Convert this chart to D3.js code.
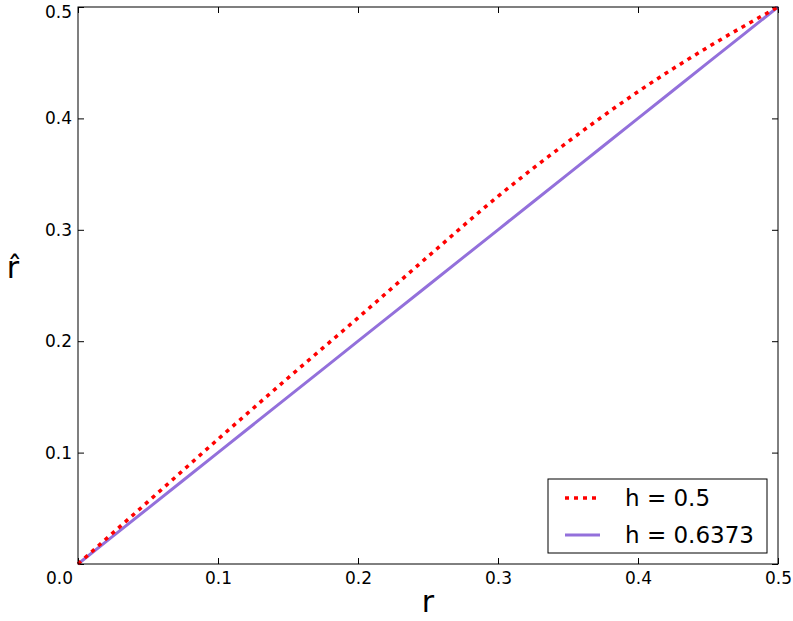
<!DOCTYPE html>
<html>
<head>
<meta charset="utf-8">
<script src="https://cdn.jsdelivr.net/npm/d3@7"></script>
<style>
  body { margin: 0; background: #fff; }
  text { font-family: "DejaVu Sans", sans-serif; }
</style>
</head>
<body>
<div id="chart"></div>
<script>
// values
const rValues = [0, 0.05, 0.1, 0.15, 0.2, 0.25, 0.3, 0.35, 0.4, 0.45, 0.5];
const rHatH05 = [0, 0.056, 0.112, 0.167, 0.221, 0.276, 0.330, 0.379, 0.424, 0.464, 0.5];
const rHatH06373 = [0, 0.05, 0.1, 0.15, 0.2, 0.25, 0.3, 0.35, 0.4, 0.45, 0.5];
const seriesNames = ['h = 0.5', 'h = 0.6373'];
const tickValues = [0, 0.1, 0.2, 0.3, 0.4, 0.5];

let margin = {top: 7, left: 78, right: 15, bottom: 57},
    width = 793 - margin.left - margin.right,
    height = 621 - margin.top - margin.bottom;

let svg = d3.select('#chart')
    .append('svg')
    .attr('width', 793)
    .attr('height', 621);

let g = svg.append('g')
    .attr('transform', 'translate(' + margin.left + ',' + margin.top + ')');

let xScale = d3.scaleLinear().domain([0, 0.5]).range([0, width]);
let yScale = d3.scaleLinear().domain([0, 0.5]).range([height, 0]);

// ticks point inwards, on all four sides
function styleAxis(sel) {
    sel.select('.domain').remove();
    sel.selectAll('.tick line').attr('stroke', '#000').attr('stroke-width', 1);
    sel.selectAll('.tick text')
        .attr('fill', '#000')
        .style('font-size', '17px');
}

g.append('g')
    .attr('transform', 'translate(0,' + height + ')')
    .call(d3.axisBottom(xScale).tickValues(tickValues)
        .tickSize(-6).tickPadding(8)
        .tickFormat(d => d === 0 ? '' : d3.format('.1f')(d)))
    .call(styleAxis);

let yAxis = g.append('g')
    .call(d3.axisLeft(yScale).tickValues(tickValues)
        .tickSize(-6).tickPadding(6)
        .tickFormat(d => d === 0 ? '' : d3.format('.1f')(d)))
    .call(styleAxis);

// top label sits a little lower so it stays on the page
yAxis.selectAll('.tick text')
    .filter(d => d === 0.5)
    .attr('dy', '0.6em');

g.append('g')
    .call(d3.axisTop(xScale).tickValues(tickValues).tickSize(-6).tickFormat(''))
    .call(styleAxis);

g.append('g')
    .attr('transform', 'translate(' + width + ',0)')
    .call(d3.axisRight(yScale).tickValues(tickValues).tickSize(-6).tickFormat(''))
    .call(styleAxis);

// shared corner label
g.append('text')
    .attr('x', -5)
    .attr('y', height + 20)
    .attr('text-anchor', 'end')
    .style('font-size', '17px')
    .text('0.0');

let line = d3.line()
    .x(d => xScale(d[0]))
    .y(d => yScale(d[1]))
    .curve(d3.curveMonotoneX);

g.append('path')
    .datum(rValues.map((r, i) => [r, rHatH06373[i]]))
    .attr('d', line)
    .attr('fill', 'none')
    .attr('stroke', '#9370DB')
    .attr('stroke-width', 3);

g.append('path')
    .datum(rValues.map((r, i) => [r, rHatH05[i]]))
    .attr('d', line)
    .attr('fill', 'none')
    .attr('stroke', '#ff0000')
    .attr('stroke-width', 3.5)
    .attr('stroke-dasharray', '4,5');

// frame
g.append('rect')
    .attr('width', width)
    .attr('height', height)
    .attr('fill', 'none')
    .attr('stroke', '#000')
    .attr('stroke-width', 1);

// axis labels
svg.append('text')
    .attr('x', margin.left + width / 2)
    .attr('y', 612)
    .attr('text-anchor', 'middle')
    .style('font-size', '30px')
    .text('r');

svg.append('text')
    .attr('x', 13)
    .attr('y', 278)
    .attr('text-anchor', 'middle')
    .style('font-size', '30px')
    .text('r\u0302');

// legend
let legend = svg.append('g')
    .attr('transform', 'translate(548,479)');

legend.append('rect')
    .attr('width', 219)
    .attr('height', 74)
    .attr('fill', '#fff')
    .attr('stroke', '#000')
    .attr('stroke-width', 1);

let legendStyles = [
    {color: '#ff0000', dash: '4,5', w: 3.5},
    {color: '#9370DB', dash: null, w: 3}
];

seriesNames.forEach((name, i) => {
    let cy = 19 + i * 37;
    legend.append('line')
        .attr('x1', 17).attr('x2', 52)
        .attr('y1', cy).attr('y2', cy)
        .attr('stroke', legendStyles[i].color)
        .attr('stroke-width', legendStyles[i].w)
        .attr('stroke-dasharray', legendStyles[i].dash);
    legend.append('text')
        .attr('x', 77)
        .attr('y', cy)
        .attr('dy', '0.36em')
        .style('font-size', '23px')
        .text(name);
});
</script>
</body>
</html>
